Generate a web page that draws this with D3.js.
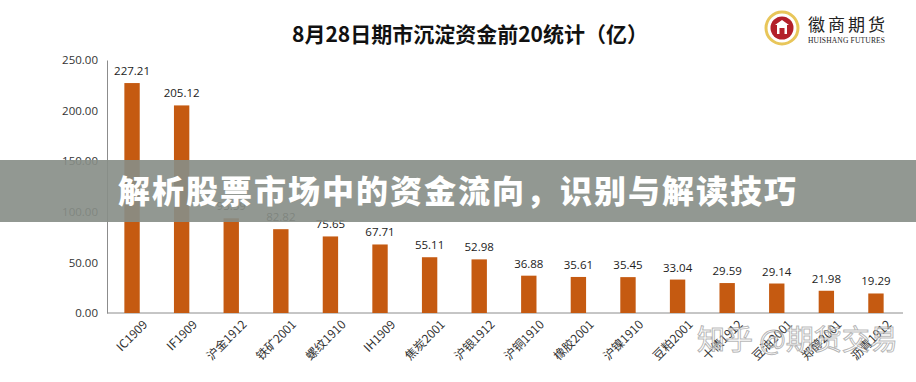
<!DOCTYPE html>
<html><head><meta charset="utf-8">
<script src="https://cdn.jsdelivr.net/npm/d3@7"></script>
<style>body{margin:0;background:#fff}svg{display:block}</style>
</head><body><svg id="c" width="916" height="382"></svg>
<script>
const categories = ["IC1909","IF1909","沪金1912","铁矿2001","螺纹1910","IH1909","焦炭2001","沪银1912","沪铜1910","橡胶2001","沪镍1910","豆粕2001","十债1912","豆油2001","郑醇2001","沥青1912"];
const values = [227.21,205.12,93.59,82.82,75.65,67.71,55.11,52.98,36.88,35.61,35.45,33.04,29.59,29.14,21.98,19.29];
const yTicks = [0,50,100,150,200,250];
const title = "8月28日期市沉淀资金前20统计（亿）";
const banner = "解析股票市场中的资金流向，识别与解读技巧";
const watermark = "知乎 @期货交易";

const svg = d3.select("#c");
const font = "'Noto Sans CJK SC','Open Sans',sans-serif";
const x = d3.scaleBand().domain(categories).range([107, 901]).paddingInner(0.69).paddingOuter(0.35);
const y = d3.scaleLinear().domain([0, 250]).range([313, 60]);

svg.append("text").attr("x", 470).attr("y", 42).attr("text-anchor", "middle")
  .attr("font-family", font).attr("font-weight", 700).attr("font-size", 21).attr("fill", "#111").text(title);

// y axis
const ya = svg.append("g").attr("transform", "translate(107,0)")
  .call(d3.axisLeft(y).tickValues(yTicks).tickFormat(d3.format(".2f")).tickSize(0).tickPadding(9));
ya.select(".domain").attr("stroke", "#8c8c8c");
ya.selectAll("text").attr("font-family", "'Open Sans',sans-serif").attr("font-size", 11.5).attr("fill", "#333");

// x axis
const xa = svg.append("g").attr("transform", "translate(0,313)")
  .call(d3.axisBottom(x).tickSize(0).tickPadding(8));
xa.select(".domain").attr("stroke", "#8c8c8c").attr("d", "M107,0H903");
xa.selectAll("text").attr("font-family", font).attr("font-size", 12).attr("fill", "#333")
  .attr("text-anchor", "end").attr("dy", "0.3em")
  .attr("transform", "translate(8,4) rotate(-45)");

svg.append("g").selectAll("rect").data(values).join("rect")
  .attr("x", (d, i) => x(categories[i])).attr("width", x.bandwidth())
  .attr("y", d => y(d)).attr("height", d => y(0) - y(d)).attr("fill", "#c55a11");

svg.append("g").selectAll("text").data(values).join("text")
  .attr("x", (d, i) => x(categories[i]) + x.bandwidth() / 2).attr("y", d => y(d) - 8)
  .attr("text-anchor", "middle").attr("font-family", "'Open Sans',sans-serif")
  .attr("font-size", 11.5).attr("fill", "#222").text(d => d.toFixed(2));

// logo
const lg = svg.append("g").attr("transform", "translate(782,28)");
lg.append("circle").attr("r", 16).attr("fill", "#fff").attr("stroke", "#e8c65a").attr("stroke-width", 3);
lg.append("circle").attr("r", 11.5).attr("fill", "#b3202a");
lg.append("path").attr("d", "M-7,-3L0,-8L7,-3Z M-5,-3H5V6H-5Z").attr("fill", "#fff");
lg.append("rect").attr("x", -2.5).attr("y", 0).attr("width", 5).attr("height", 6).attr("fill", "#b3202a");
svg.append("text").attr("x", 808).attr("y", 31).attr("font-family", "'Noto Sans CJK SC'")
  .attr("font-size", 17).attr("letter-spacing", 3).attr("fill", "#222").text("徽商期货");
svg.append("text").attr("x", 808).attr("y", 43).attr("font-family", "'Liberation Serif',serif")
  .attr("font-size", 7.5).attr("fill", "#222").attr("textLength", 77).text("HUISHANG FUTURES");

// watermark
svg.append("text").attr("x", 697).attr("y", 350).attr("font-family", font).attr("font-size", 28)
  .attr("fill", "rgba(255,255,255,0.55)").attr("stroke", "rgba(120,120,120,0.55)").attr("stroke-width", 1)
  .text(watermark);

// banner
svg.append("rect").attr("x", 0).attr("y", 160).attr("width", 916).attr("height", 62)
  .attr("fill", "rgb(135,142,135)").attr("opacity", 0.91);
svg.append("text").attr("x", 118).attr("y", 203).attr("font-family", font).attr("font-weight", 900)
  .attr("font-size", 32).attr("letter-spacing", 2).attr("fill", "#fff").text(banner);
</script></body></html>
